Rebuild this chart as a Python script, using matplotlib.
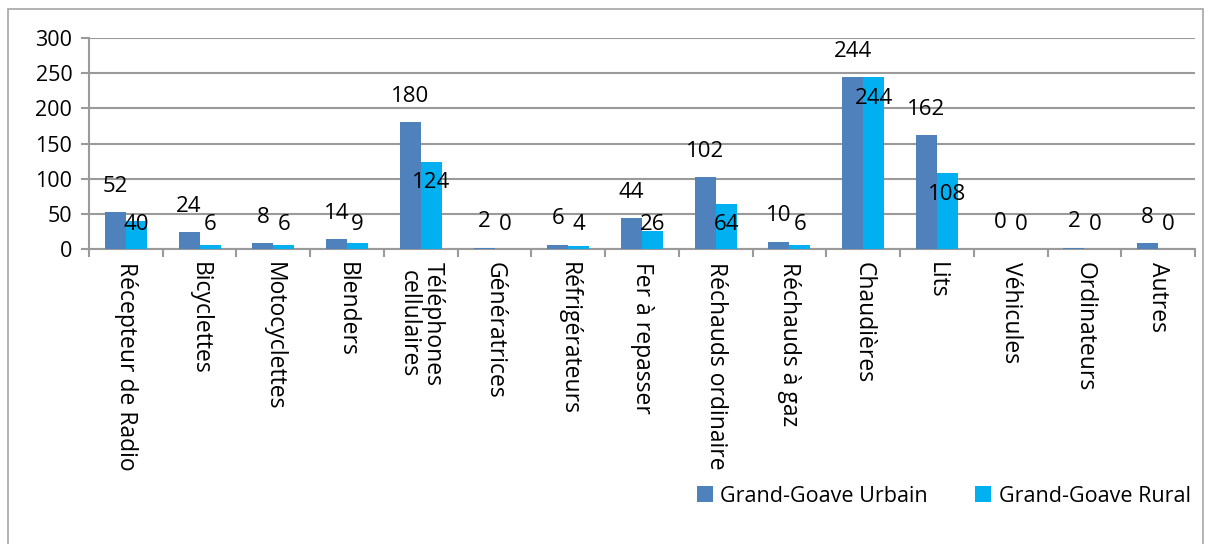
import numpy as np
import matplotlib
matplotlib.use("Agg")
import matplotlib.pyplot as plt
from matplotlib.patches import Rectangle

plt.rcParams['font.family'] = ['Open Sans', 'DejaVu Sans']

categories = ["Récepteur de Radio", "Bicyclettes", "Motocyclettes", "Blenders",
              "Téléphones\ncellulaires", "Génératrices", "Réfrigérateurs",
              "Fer à repasser", "Réchauds ordinaire", "Réchauds à gaz",
              "Chaudières", "Lits", "Véhicules", "Ordinateurs", "Autres"]
urbain = [52, 24, 8, 14, 180, 2, 6, 44, 102, 10, 244, 162, 0, 2, 8]
rural = [40, 6, 6, 9, 124, 0, 4, 26, 64, 6, 244, 108, 0, 0, 0]

c_urb = "#4F81BD"
c_rur = "#00B0F0"
grid_c = "#9a9a9a"

fig = plt.figure(figsize=(12.09, 5.44), dpi=100)
ax = fig.add_axes([89/1209, 1-249/544, (1195-89)/1209, (249-38)/544])

x = np.arange(len(categories))
w = 0.285
ax.bar(x - w/2, urbain, w, color=c_urb, label="Grand-Goave Urbain", zorder=3)
ax.bar(x + w/2, rural, w, color=c_rur, label="Grand-Goave Rural", zorder=3)

# data labels, Excel-like placement
for i in range(len(categories)):
    ax.text(x[i] - w/2, urbain[i] + 37, str(urbain[i]), ha="center", va="center",
            fontsize=16, zorder=4)
    yr = max(rural[i] - 30, 35)
    ax.text(x[i] + w/2, yr, str(rural[i]), ha="center", va="center",
            fontsize=16, zorder=4)

ax.set_xlim(-0.5, len(categories) - 0.5)
ax.set_ylim(0, 300)
ax.set_yticks(np.arange(0, 301, 50))
ax.yaxis.grid(True, color=grid_c, linewidth=1.5, zorder=0)
ax.set_axisbelow(True)

ax.set_xticks(np.arange(-0.5, len(categories), 1), minor=False)
ax.set_xticklabels([])
ax.set_xticks(x, minor=True)
ax.set_xticklabels(categories, minor=True, rotation=270, fontsize=16.5,
                   va="top", ha="center", linespacing=0.95)
ax.tick_params(axis="x", which="major", length=6, color=grid_c, width=1.5)
ax.tick_params(axis="x", which="minor", length=0, pad=9)
ax.tick_params(axis="y", length=6, color=grid_c, width=1.5, labelsize=15.5, pad=6)

for s in ["top", "right"]:
    ax.spines[s].set_visible(False)
for s in ["left", "bottom"]:
    ax.spines[s].set_color(grid_c)
    ax.spines[s].set_linewidth(1.5)

fig.legend(loc="center left", bbox_to_anchor=(688/1209, 1-496/544), ncol=2,
           frameon=False, fontsize=15.5, handlelength=0.75, handleheight=0.75,
           handletextpad=0.35, columnspacing=2.2, borderaxespad=0)

fig.patches.append(Rectangle((8/1209, -0.1), (1203-8)/1209, 1.1 - 9/544,
                             transform=fig.transFigure, fill=False,
                             edgecolor="#a6a6a6", linewidth=1.2))

fig.savefig("out.png", dpi=100)
